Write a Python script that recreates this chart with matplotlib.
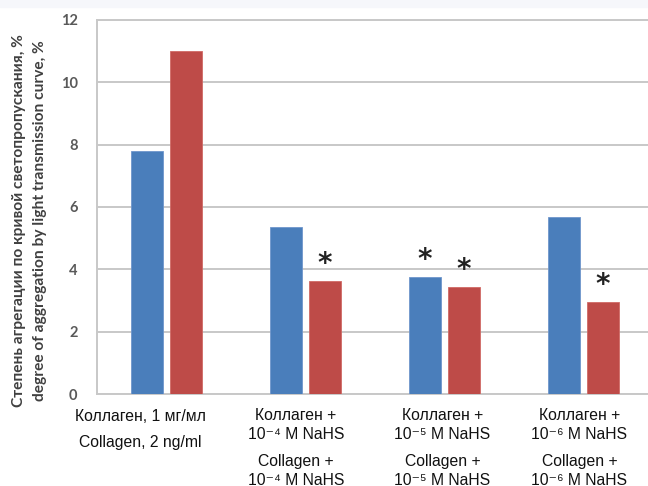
import matplotlib
matplotlib.use("Agg")
import matplotlib.pyplot as plt
from matplotlib.patches import Rectangle
import numpy as np

labels_ru = [["Коллаген, 1 мг/мл"], ["Коллаген +", "10⁻⁴ M NaHS"], ["Коллаген +", "10⁻⁵ M NaHS"], ["Коллаген +", "10⁻⁶ M NaHS"]]
labels_en = [["Collagen, 2 ng/ml"], ["Collagen +", "10⁻⁴ M NaHS"], ["Collagen +", "10⁻⁵ M NaHS"], ["Collagen +", "10⁻⁶ M NaHS"]]
blue_values = [7.8, 5.35, 3.75, 5.67]
red_values = [11.0, 3.62, 3.43, 2.95]
blue_star = [False, False, True, False]
red_star = [False, True, True, True]
yticks = [0, 2, 4, 6, 8, 10, 12]
ylabel_ru = "Степень агрегации по кривой светопропускания, %"
ylabel_en = "degree of aggregation by light transmission curve, %"

fig = plt.figure(figsize=(6.48, 4.86), dpi=100)
fig.patches.append(Rectangle((0, 1 - 7/486), 1, 7/486, transform=fig.transFigure,
                             color="#f6f7fb", zorder=0))

ax = fig.add_axes([97/648, 1 - 394/486, 556/648, 374/486])
x = np.arange(len(blue_values))
w = 0.23
off = 0.14
ax.bar(x - off, blue_values, w, color="#4a7ebb", edgecolor="#6f96cc", linewidth=0.6, zorder=3)
ax.bar(x + off, red_values, w, color="#be4b48", edgecolor="#d06a66", linewidth=0.6, zorder=3)

for xi, v, s in zip(x - off, blue_values, blue_star):
    if s:
        ax.text(xi, v + 0.1, "*", ha="center", va="bottom", fontsize=20, fontweight="bold", color="#222222")
for xi, v, s in zip(x + off, red_values, red_star):
    if s:
        ax.text(xi, v + 0.1, "*", ha="center", va="bottom", fontsize=20, fontweight="bold", color="#222222")

ax.set_xlim(-0.5, 3.5)
ax.set_ylim(0, 12)
ax.set_yticks(yticks)
ax.set_yticklabels([str(t) for t in yticks], fontfamily="Lato", fontweight="bold", fontsize=10.5, color="#595959")
ax.tick_params(axis="y", length=0, pad=14)
ax.set_xticks([])
ax.grid(axis="y", color="#c8c8c8", linewidth=1.4, zorder=0)
for sp in ["left", "bottom", "top"]:
    ax.spines[sp].set_color("#c8c8c8")
    ax.spines[sp].set_linewidth(1.4)
ax.spines["right"].set_visible(False)

fam = ["Liberation Sans", "DejaVu Sans"]
label_shift = [-0.19, -0.07, -0.015, -0.03]
fs = 11.3
for i, (ru, en) in enumerate(zip(labels_ru, labels_en)):
    xd = ax.transData.transform((i + label_shift[i], 0))[0] / fig.bbox.width
    if len(ru) == 1:
        ys_ru, ys_en = [416], [442]
    else:
        ys_ru, ys_en = [415, 434], [461, 480]
    for line, yy in zip(ru, ys_ru):
        fig.text(xd, 1 - yy/486, line, ha="center", va="center", fontsize=fs, family=fam, color="#111111")
    for line, yy in zip(en, ys_en):
        fig.text(xd, 1 - yy/486, line, ha="center", va="center", fontsize=fs, family=fam, color="#111111")

fig.text(19/648, 1 - 221/486, ylabel_ru, rotation=90, ha="center", va="center",
         fontsize=11.2, fontfamily="Lato", fontweight="bold", color="#404040")
fig.text(40/648, 1 - 221/486, ylabel_en, rotation=90, ha="center", va="center",
         fontsize=11.2, fontfamily="Lato", fontweight="bold", color="#404040")

fig.savefig("out.png", dpi=100)
